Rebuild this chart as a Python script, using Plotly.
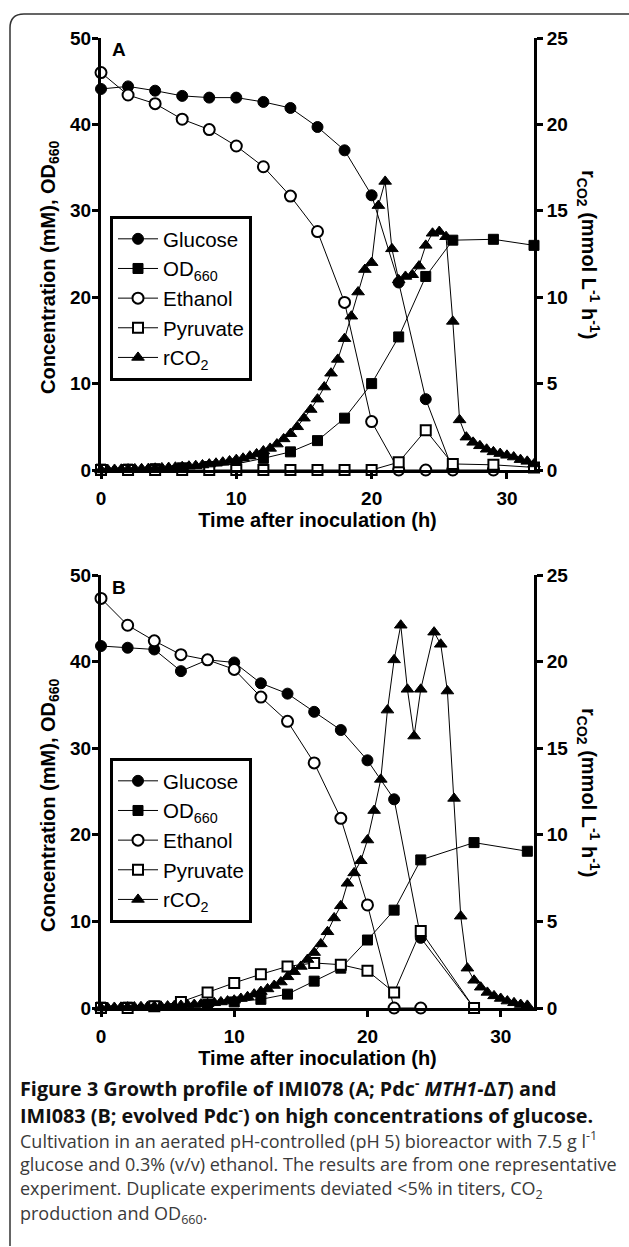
import plotly.graph_objects as go

W, H = 629, 1247

# ---------------- Panel A data ----------------
A_glu_t = [0, 2, 4, 6, 8, 10, 12, 14, 16, 18, 20, 22, 24, 26]
A_glu = [44.1, 44.4, 43.9, 43.3, 43.1, 43.1, 42.6, 41.9, 39.7, 37.0, 31.8, 21.7, 8.2, 0.0]
A_od_t = [0, 2, 4, 6, 8, 10, 12, 14, 16, 18, 20, 22, 24, 26, 29, 32]
A_od = [0.1, 0.1, 0.15, 0.25, 0.4, 0.7, 1.35, 2.1, 3.4, 6.0, 10.0, 15.4, 22.4, 26.6, 26.7, 26.0]
A_eth_t = [0, 2, 4, 6, 8, 10, 12, 14, 16, 18, 20, 22, 24, 26, 29]
A_eth = [46.0, 43.4, 42.4, 40.6, 39.4, 37.5, 35.1, 31.7, 27.6, 19.4, 5.6, 0.0, 0.0, 0.0, 0.0]
A_pyr_t = [0, 2, 4, 6, 8, 10, 12, 14, 16, 18, 20, 22, 24, 26, 29, 32]
A_pyr = [0, 0, 0, 0, 0, 0, 0, 0, 0, 0, 0, 0.9, 4.6, 0.7, 0.6, 0.3]
A_co2_t = [0, 0.5, 1, 1.5, 2, 2.5, 3, 3.5, 4, 4.5, 5, 5.5, 6, 6.5, 7, 7.5, 8, 8.5, 9, 9.5,
           10, 10.5, 11, 11.5, 12, 12.5, 13, 13.5, 14, 14.5, 15, 15.5, 16, 16.5, 17, 17.5,
           18, 18.5, 19, 19.5, 20, 20.5, 21, 21.5, 22, 22.5, 23, 23.5, 24, 24.5, 25, 25.5,
           26, 26.5, 27, 27.5, 28, 28.5, 29, 29.5, 30, 30.5, 31, 31.5, 32]
A_co2 = [0.0, 0.02, 0.03, 0.04, 0.05, 0.06, 0.07, 0.08, 0.1, 0.12, 0.14, 0.16, 0.19, 0.22,
         0.25, 0.29, 0.34, 0.39, 0.45, 0.52, 0.6, 0.68, 0.8, 0.93, 1.1, 1.25, 1.5, 1.8, 2.1,
         2.5, 3.0, 3.5, 4.1, 4.8, 5.6, 6.4, 7.6, 8.9, 10.3, 11.6, 12.0, 15.3, 16.7, 12.8,
         11.0, 11.2, 11.3, 11.8, 13.0, 13.7, 13.8, 13.5, 8.6, 2.9, 1.9, 1.6, 1.4, 1.2, 1.05,
         0.95, 0.85, 0.75, 0.6, 0.5, 0.35]

# ---------------- Panel B data ----------------
B_glu_t = [0, 2, 4, 6, 8, 10, 12, 14, 16, 18, 20, 22, 24, 28]
B_glu = [41.8, 41.6, 41.4, 38.9, 40.2, 39.9, 37.5, 36.3, 34.2, 32.1, 28.6, 24.1, 8.1, 0.0]
B_od_t = [0, 2, 4, 6, 8, 10, 12, 14, 16, 18, 20, 22, 24, 28, 32]
B_od = [0.1, 0.1, 0.2, 0.3, 0.4, 0.7, 1.0, 1.6, 3.1, 4.6, 7.85, 11.3, 17.1, 19.1, 18.1]
B_eth_t = [0, 2, 4, 6, 8, 10, 12, 14, 16, 18, 20, 22, 24]
B_eth = [47.3, 44.2, 42.4, 40.8, 40.2, 39.1, 35.9, 33.1, 28.3, 21.9, 11.9, 0.0, 0.0]
B_pyr_t = [0, 2, 4, 6, 8, 10, 12, 14, 16, 18, 20, 22, 24, 28]
B_pyr = [0, 0, 0.2, 0.7, 1.8, 2.9, 3.9, 4.8, 5.2, 5.0, 4.3, 1.8, 8.9, 0.0]
B_co2_t = [0, 0.5, 1, 1.5, 2, 2.5, 3, 3.5, 4, 4.5, 5, 5.5, 6, 6.5, 7, 7.5, 8, 8.5, 9, 9.5,
           10, 10.5, 11, 11.5, 12, 12.5, 13, 13.5, 14, 14.5, 15, 15.5, 16, 16.5, 17, 17.5,
           18, 18.5, 19, 19.5, 20, 20.5, 21, 21.5, 22, 22.5, 23, 23.5, 24, 25, 25.5,
           26, 26.5, 27, 27.5, 28, 28.5, 29, 29.5, 30, 30.5, 31, 31.5, 32]
B_co2 = [0.0, 0.02, 0.03, 0.04, 0.05, 0.06, 0.07, 0.08, 0.09, 0.1, 0.11, 0.13, 0.15, 0.17,
         0.2, 0.22, 0.25, 0.3, 0.35, 0.4, 0.45, 0.55, 0.65, 0.8, 0.95, 1.1, 1.3, 1.5, 1.8,
         2.1, 2.4, 2.8, 3.2, 3.7, 4.4, 5.2, 5.9, 7.2, 7.8, 8.5, 9.7, 11.4, 13.2, 17.2, 20.1,
         22.1, 18.4, 15.7, 18.4, 21.7, 21.0, 18.3, 12.1, 5.3, 2.3, 1.6, 1.2, 0.9, 0.7, 0.55,
         0.4, 0.3, 0.2, 0.15]

X_TICKS = [0, 10, 20, 30]
Y_TICKS = [0, 10, 20, 30, 40, 50]
Y2_TICKS = [0, 5, 10, 15, 20, 25]

SERIES = ["Glucose", "OD<sub>660</sub>", "Ethanol", "Pyruvate", "rCO<sub>2</sub>"]


def px(x):
    return x / W


def py(y):
    return 1 - y / H


FONT = "Liberation Sans"

fig = go.Figure()

styles = [
    dict(symbol="circle", color="black", line=dict(color="black", width=1)),
    dict(symbol="square", color="black", line=dict(color="black", width=1)),
    dict(symbol="circle", color="white", line=dict(color="black", width=2)),
    dict(symbol="square", color="white", line=dict(color="black", width=2)),
    dict(symbol="triangle-up", color="black", line=dict(color="black", width=1)),
]
sizes = [11, 10, 11, 10, 11]


def add_panel(data, xa, ya, ya2, legend):
    for i, (t, v) in enumerate(data):
        fig.add_trace(go.Scatter(
            x=t, y=v, mode="lines+markers", name=SERIES[i],
            xaxis=xa, yaxis=(ya2 if i == 4 else ya),
            line=dict(color="black", width=1),
            marker=dict(size=sizes[i], **styles[i]),
            cliponaxis=False, legend=legend, showlegend=True,
        ))


add_panel([(A_glu_t, A_glu), (A_od_t, A_od), (A_eth_t, A_eth), (A_pyr_t, A_pyr), (A_co2_t, A_co2)],
          "x", "y", "y2", "legend")
add_panel([(B_glu_t, B_glu), (B_od_t, B_od), (B_eth_t, B_eth), (B_pyr_t, B_pyr), (B_co2_t, B_co2)],
          "x2", "y3", "y4", "legend2")

tickfont = dict(family=FONT, size=19, color="black", weight="bold")
axis_common = dict(showline=True, linecolor="black", linewidth=3, ticks="outside",
                   ticklen=6, tickwidth=3, tickcolor="black", showgrid=False,
                   zeroline=False, tickfont=tickfont, automargin=False)

xdom = [px(101), px(534)]
ydomA = [py(470), py(38)]
ydomB = [py(1008), py(575)]

xtitle = dict(text="Time after inoculation (h)",
              font=dict(family=FONT, size=20, color="black", weight="bold"), standoff=4)

fig.update_layout(
    template="none",
    width=W, height=H, margin=dict(l=0, r=0, t=0, b=0, autoexpand=False),
    paper_bgcolor="white", plot_bgcolor="white",
    xaxis=dict(domain=xdom, range=[0, 32], tickvals=X_TICKS, anchor="y", title=xtitle,
               ticklabelstandoff=3, **axis_common),
    yaxis=dict(domain=ydomA, range=[0, 50], tickvals=Y_TICKS, anchor="x",
               ticklabelstandoff=-3, **axis_common),
    yaxis2=dict(domain=ydomA, range=[0, 25], tickvals=Y2_TICKS, anchor="x", overlaying="y",
                side="right", **axis_common),
    xaxis2=dict(domain=xdom, range=[0, 32.5], tickvals=X_TICKS, anchor="y3", title=xtitle,
                ticklabelstandoff=3, **axis_common),
    yaxis3=dict(domain=ydomB, range=[0, 50], tickvals=Y_TICKS, anchor="x2",
                ticklabelstandoff=-3, **axis_common),
    yaxis4=dict(domain=ydomB, range=[0, 25], tickvals=Y2_TICKS, anchor="x2", overlaying="y3",
                side="right", **axis_common),
    legend=dict(x=px(110), y=py(216), xanchor="left", yanchor="top", bgcolor="white",
                bordercolor="black", borderwidth=3, itemwidth=40, entrywidth=92,
                font=dict(family=FONT, size=20.5, color="black")),
    legend2=dict(x=px(110), y=py(758), xanchor="left", yanchor="top", bgcolor="white",
                 bordercolor="black", borderwidth=3, itemwidth=40, entrywidth=92,
                 font=dict(family=FONT, size=20.5, color="black")),
)

ann = []
ytitle = "Concentration (mM), OD<sub>660</sub>"
rtitle = "r<sub>CO2</sub> (mmol L<sup>-1</sup> h<sup>-1</sup>)"
for yc in [254, 792]:
    ann.append(dict(x=px(49), y=py(yc + 13), xref="paper", yref="paper", text=ytitle, textangle=-90,
                    xanchor="center", yanchor="middle",
                    showarrow=False, font=dict(family=FONT, size=20, color="black", weight="bold")))
    ann.append(dict(x=px(589), y=py(yc), xref="paper", yref="paper", text=rtitle, textangle=90,
                    xanchor="center", yanchor="middle",
                    showarrow=False, font=dict(family=FONT, size=20, color="black", weight="bold")))
ann.append(dict(x=px(110), y=py(50), xref="paper", yref="paper", text="A", showarrow=False,
                xanchor="left", yanchor="middle",
                font=dict(family=FONT, size=19, color="black", weight="bold")))
ann.append(dict(x=px(110), y=py(587), xref="paper", yref="paper", text="B", showarrow=False,
                xanchor="left", yanchor="middle",
                font=dict(family=FONT, size=19, color="black", weight="bold")))

cap_bold = ["Figure 3 Growth profile of IMI078 (A; Pdc<sup>-</sup> <i>MTH1-</i>Δ<i>T</i>) and",
            "IMI083 (B; evolved Pdc<sup>-</sup>) on high concentrations of glucose."]
cap_norm = ["Cultivation in an aerated pH-controlled (pH 5) bioreactor with 7.5 g l<sup>-1</sup>",
            "glucose and 0.3% (v/v) ethanol. The results are from one representative",
            "experiment. Duplicate experiments deviated <5% in titers, CO<sub>2</sub>",
            "production and OD<sub>660</sub>."]
for yc, txt in zip([1087, 1114], cap_bold):
    ann.append(dict(x=px(18), y=py(yc), xref="paper", yref="paper", text=txt, showarrow=False,
                    xanchor="left", yanchor="middle",
                    font=dict(family="Open Sans", size=19.8, color="#111", weight="bold")))
for yc, txt in zip([1140, 1164, 1189, 1214], cap_norm):
    ann.append(dict(x=px(18), y=py(yc), xref="paper", yref="paper", text=txt, showarrow=False,
                    xanchor="left", yanchor="middle",
                    font=dict(family="Open Sans", size=18, color="#3a3a3a")))
fig.update_layout(annotations=ann)

r = 14
path = (f"M {px(700)} {py(14)} L {px(10 + r)} {py(14)} Q {px(10)} {py(14)} {px(10)} {py(14 + r)} "
        f"L {px(10)} {py(1246)}")
fig.add_shape(type="path", path=path, xref="paper", yref="paper",
              line=dict(color="#333", width=1.5))

fig.write_html("out.html", config={"displayModeBar": False},
               post_script="document.body.style.margin='0px';")
